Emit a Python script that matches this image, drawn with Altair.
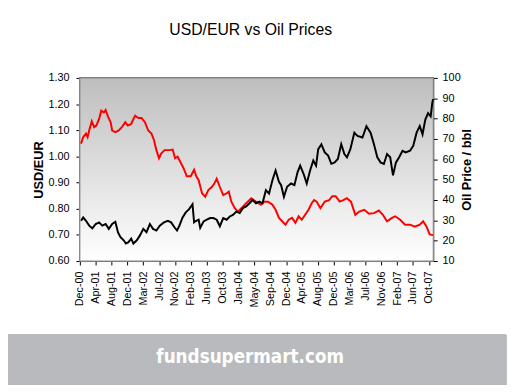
import json
import altair as alt
import pandas as pd

# ---------------- data ----------------
tick_labels = ["Dec-00", "Apr-01", "Aug-01", "Dec-01", "Mar-02", "Jul-02", "Nov-02",
               "Feb-03", "Jun-03", "Oct-03", "Jan-04", "May-04", "Sep-04", "Dec-04",
               "Apr-05", "Aug-05", "Dec-05", "Mar-06", "Jul-06", "Nov-06", "Feb-07",
               "Jun-07", "Oct-07"]
tick_step = 80          # trading days between category labels
last_day = 1782

usd_day = [6, 17, 31, 39, 47, 60, 72, 83, 97, 108, 121, 130, 143, 155, 163, 179, 196,
           212, 229, 242, 259, 270, 279, 295, 311, 328, 345, 361, 374, 386, 399, 410,
           427, 452, 468, 480, 493, 510, 523, 539, 559, 576, 587, 599, 616, 632, 648,
           665, 678, 690, 706, 723, 740, 751, 764, 781, 797, 814, 839, 864, 888, 913,
           929, 949, 971, 987, 1004, 1020, 1037, 1053, 1070, 1087, 1103, 1119, 1136,
           1153, 1169, 1181, 1194, 1213, 1235, 1257, 1273, 1290, 1310, 1329, 1346, 1367,
           1389, 1409, 1434, 1458, 1483, 1508, 1528, 1549, 1574, 1590, 1615, 1640, 1665,
           1689, 1714, 1731, 1747, 1764, 1781]
usd_val = [1.049, 1.074, 1.087, 1.074, 1.099, 1.134, 1.112, 1.118, 1.143, 1.175, 1.168,
           1.177, 1.150, 1.131, 1.099, 1.093, 1.099, 1.112, 1.131, 1.118, 1.124, 1.143,
           1.156, 1.147, 1.147, 1.131, 1.099, 1.087, 1.062, 1.024, 0.993, 1.011, 1.024,
           1.024, 1.026, 0.993, 0.999, 0.974, 0.955, 0.924, 0.924, 0.949, 0.924, 0.909,
           0.859, 0.846, 0.871, 0.883, 0.896, 0.915, 0.883, 0.852, 0.859, 0.865, 0.827,
           0.802, 0.789, 0.802, 0.821, 0.840, 0.827, 0.815, 0.827, 0.827, 0.815, 0.796,
           0.765, 0.752, 0.739, 0.758, 0.765, 0.746, 0.771, 0.758, 0.777, 0.796, 0.821,
           0.833, 0.827, 0.802, 0.827, 0.833, 0.848, 0.848, 0.827, 0.833, 0.840, 0.827,
           0.777, 0.789, 0.796, 0.781, 0.783, 0.793, 0.777, 0.752, 0.765, 0.771, 0.758,
           0.739, 0.739, 0.731, 0.739, 0.752, 0.733, 0.702, 0.699]

oil_day = [6, 17, 31, 47, 63, 80, 97, 113, 130, 146, 163, 179, 192, 204, 221, 232, 245,
           259, 270, 287, 303, 320, 336, 353, 369, 386, 403, 424, 444, 460, 477, 490,
           502, 518, 534, 551, 568, 576, 582, 599, 607, 624, 640, 657, 673, 690, 706,
           723, 740, 756, 772, 789, 806, 822, 839, 855, 871, 888, 905, 921, 938, 954,
           971, 987, 1004, 1015, 1029, 1045, 1065, 1082, 1098, 1111, 1128, 1144, 1161,
           1177, 1191, 1202, 1218, 1235, 1252, 1268, 1285, 1301, 1318, 1334, 1347, 1364,
           1384, 1400, 1425, 1445, 1466, 1483, 1500, 1516, 1533, 1549, 1565, 1579, 1594,
           1610, 1627, 1643, 1665, 1681, 1698, 1714, 1728, 1742, 1756, 1769, 1777, 1781]
oil_val = [29.8, 31.4, 29.8, 27.4, 26.1, 28.2, 29.0, 27.4, 28.2, 25.8, 28.2, 29.3, 24.2,
           21.8, 20.2, 18.6, 19.3, 21.0, 18.6, 20.2, 22.6, 25.8, 24.2, 28.2, 25.8, 25.0,
           27.4, 29.0, 29.8, 29.0, 26.6, 25.0, 27.4, 31.4, 33.9, 35.5, 37.9, 29.0, 29.5,
           30.3, 26.3, 29.5, 30.3, 31.1, 31.1, 30.3, 27.1, 31.1, 30.3, 31.9, 32.7, 34.3,
           33.6, 36.0, 36.8, 38.4, 40.0, 38.4, 39.2, 38.4, 44.8, 43.2, 49.7, 54.5, 48.9,
           47.3, 41.6, 46.5, 48.1, 47.3, 53.7, 56.9, 52.9, 48.1, 54.5, 59.4, 56.9, 65.0,
           67.4, 63.4, 61.8, 57.8, 58.5, 60.2, 67.4, 62.6, 61.0, 65.0, 73.1, 71.5, 70.7,
           76.3, 73.1, 67.4, 61.0, 58.5, 57.7, 62.6, 61.0, 52.1, 58.5, 61.0, 64.2, 63.4,
           64.2, 66.6, 73.1, 76.3, 72.3, 79.5, 82.7, 81.1, 87.6, 89.6]

usd_ticks = [0.60, 0.70, 0.80, 0.90, 1.00, 1.10, 1.20, 1.30]
oil_ticks = [10, 20, 30, 40, 50, 60, 70, 80, 90, 100]

title_text = "USD/EUR vs Oil Prices"
left_title = "USD/EUR"
right_title = "Oil Price / bbl"
banner_text = "fundsupermart.com"

# ---------------- layout ----------------
W, H = 359, 186
FONT = "Liberation Sans"

usd_df = pd.DataFrame({"day": usd_day, "usd": usd_val})
oil_df = pd.DataFrame({"day": oil_day, "oil": oil_val})

label_expr = json.dumps(tick_labels) + "[round(datum.value / %d)]" % tick_step

x_enc = alt.X(
    "day:Q",
    scale=alt.Scale(domain=[0, last_day], nice=False, zero=False),
    axis=alt.Axis(values=list(range(0, tick_step * (len(tick_labels) - 1) + 1, tick_step)),
                  labelExpr=label_expr, labelAngle=-90, labelFontSize=11,
                  labelPadding=6, tickSize=4, title=None, grid=False,
                  domainColor="black", tickColor="black", labelColor="black",
                  labelFont=FONT),
)

bg = alt.Chart(usd_df).mark_rect(
    color=alt.LinearGradient(
        gradient="linear", x1=0, y1=0, x2=0, y2=1,
        stops=[alt.GradientStop(color="#bebebe", offset=0),
               alt.GradientStop(color="#ffffff", offset=1)]),
    stroke="#808080", strokeWidth=1,
).encode(x=alt.value(0), x2=alt.value(W), y=alt.value(0), y2=alt.value(H))

usd_line = alt.Chart(usd_df).mark_line(color="#ff0000", strokeWidth=2).encode(
    x=x_enc,
    y=alt.Y("usd:Q", scale=alt.Scale(domain=[0.6, 1.3], nice=False, zero=False),
            axis=alt.Axis(values=usd_ticks, format=".2f", orient="left",
                          title=left_title, titleFontSize=13, titleFont=FONT,
                          titleFontWeight="bold", titlePadding=3, titleColor="black",
                          labelFontSize=11, labelFont=FONT, labelPadding=7,
                          tickSize=4, grid=False, domainColor="black",
                          tickColor="black", labelColor="black")),
)

oil_line = alt.Chart(oil_df).mark_line(color="#000000", strokeWidth=2).encode(
    x=x_enc,
    y=alt.Y("oil:Q", scale=alt.Scale(domain=[10, 100], nice=False, zero=False),
            axis=alt.Axis(values=oil_ticks, orient="right",
                          title=right_title, titleFontSize=13, titleFont=FONT,
                          titleFontWeight="bold", titlePadding=14, titleAngle=270,
                          titleColor="black",
                          labelFontSize=11, labelFont=FONT, labelPadding=5,
                          tickSize=4, grid=False, domainColor="black",
                          tickColor="black", labelColor="black")),
)

banner = alt.Chart(usd_df).mark_rect(color="#b9babd").encode(
    x=alt.value(-73), x2=alt.value(433), y=alt.value(261), y2=alt.value(312))

banner_txt = alt.Chart(pd.DataFrame({"t": [banner_text]})).mark_text(
    font="DejaVu Sans Condensed, Liberation Sans, sans-serif",
    fontSize=19, color="white", fontWeight="bold", align="center",
    baseline="alphabetic",
).encode(text="t:N", x=alt.value(173), y=alt.value(290))

chart = alt.layer(bg, usd_line, oil_line, banner, banner_txt).resolve_scale(
    y="independent"
).properties(
    width=W, height=H,
    title=alt.TitleParams(title_text, font=FONT, fontSize=16, fontWeight="normal",
                          color="black", anchor="middle", offset=35, dx=-6),
    autosize=alt.AutoSizeParams(type="none"),
    padding={"left": 73, "top": 68, "right": 80, "bottom": 130},
    background="white",
).configure_view(stroke=None)

chart.save("out.html", embed_options={"renderer": "svg", "actions": False})
